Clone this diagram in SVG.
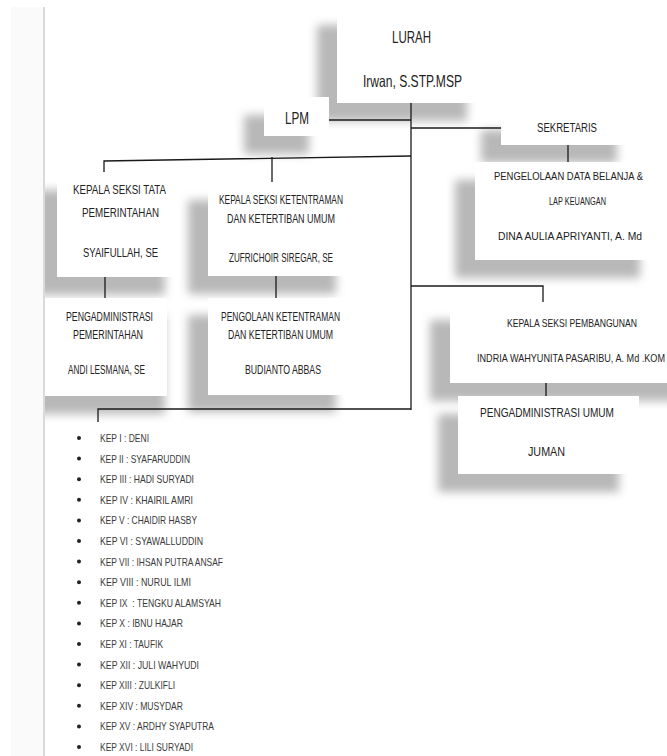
<svg xmlns="http://www.w3.org/2000/svg" width="667" height="756" viewBox="0 0 667 756">
<style>
.t{font-family:"Liberation Sans",Arial,sans-serif;font-size:12.5px;fill:#222}
.r{font-size:10.5px}
.b{font-size:16.5px}
.l{font-family:"Liberation Sans",Arial,sans-serif;font-size:11px;fill:#3a3a3a}
.box{fill:#fff}
.sh{fill:#b8b8b8;filter:url(#blur)}
.c{stroke:#1a1a1a;stroke-width:1.3;fill:none}
.bul{fill:#222}
</style>
<defs>
<filter id="blur" x="-30%" y="-30%" width="160%" height="160%"><feGaussianBlur stdDeviation="5"/></filter>
<clipPath id="page"><rect x="45" y="0" width="622" height="756"/></clipPath>
</defs>
<rect width="667" height="756" fill="#fff"/>
<rect x="11" y="7" width="32" height="749" fill="#fafafa"/>
<rect x="43" y="7" width="2" height="749" fill="#dadada"/>
<g clip-path="url(#page)">
<g id="lurah">
<rect class="sh" x="317" y="25" width="150" height="96"/>
<rect class="box" x="337" y="7" width="150" height="96"/>
<text class="t b" x="392" y="42.7" textLength="39" lengthAdjust="spacingAndGlyphs">LURAH</text>
<text class="t b" x="363" y="87" textLength="99" lengthAdjust="spacingAndGlyphs">Irwan, S.STP.MSP</text>
</g>
<g id="lpm">
<rect class="sh" x="244" y="115" width="65" height="39"/>
<rect class="box" x="264" y="97" width="65" height="39"/>
<text class="t b" x="285" y="124" textLength="24" lengthAdjust="spacingAndGlyphs">LPM</text>
</g>
<g id="sekretaris">
<rect class="sh" x="481" y="130" width="136" height="33"/>
<rect class="box" x="501" y="112" width="136" height="33"/>
<text class="t" x="537" y="132" textLength="60" lengthAdjust="spacingAndGlyphs">SEKRETARIS</text>
</g>
<g id="pengelolaan">
<rect class="sh" x="455" y="180" width="185" height="98"/>
<rect class="box" x="475" y="162" width="185" height="98"/>
<text class="t r" x="494" y="179.5" textLength="149" lengthAdjust="spacingAndGlyphs">PENGELOLAAN DATA BELANJA &amp;</text>
<text class="t r" x="549" y="204.5" textLength="57" lengthAdjust="spacingAndGlyphs">LAP KEUANGAN</text>
<text class="t r" x="498" y="239.5" textLength="144" lengthAdjust="spacingAndGlyphs">DINA AULIA APRIYANTI, A. Md</text>
</g>
<g id="kasi-tata">
<rect class="sh" x="37" y="190" width="128" height="105"/>
<rect class="box" x="57" y="172" width="128" height="105"/>
<text class="t" x="73" y="194" textLength="93" lengthAdjust="spacingAndGlyphs">KEPALA SEKSI TATA</text>
<text class="t" x="82" y="216.5" textLength="77" lengthAdjust="spacingAndGlyphs">PEMERINTAHAN</text>
<text class="t" x="83" y="256.5" textLength="75" lengthAdjust="spacingAndGlyphs">SYAIFULLAH, SE</text>
</g>
<g id="kasi-trantib">
<rect class="sh" x="188" y="200" width="148" height="94"/>
<rect class="box" x="208" y="182" width="148" height="94"/>
<text class="t" x="219" y="203.5" textLength="124" lengthAdjust="spacingAndGlyphs">KEPALA SEKSI KETENTRAMAN</text>
<text class="t" x="227" y="222.5" textLength="108" lengthAdjust="spacingAndGlyphs">DAN KETERTIBAN UMUM</text>
<text class="t" x="229" y="261.5" textLength="104" lengthAdjust="spacingAndGlyphs">ZUFRICHOIR SIREGAR, SE</text>
</g>
<g id="pengadm-pem">
<rect class="sh" x="25" y="316" width="140" height="98"/>
<rect class="box" x="45" y="298" width="122" height="98"/>
<text class="t" x="66" y="320.5" textLength="87" lengthAdjust="spacingAndGlyphs">PENGADMINISTRASI</text>
<text class="t" x="73" y="338.5" textLength="70" lengthAdjust="spacingAndGlyphs">PEMERINTAHAN</text>
<text class="t" x="68" y="373.5" textLength="77" lengthAdjust="spacingAndGlyphs">ANDI LESMANA, SE</text>
</g>
<g id="pengolaan">
<rect class="sh" x="188" y="315" width="148" height="97"/>
<rect class="box" x="208" y="298" width="148" height="97"/>
<text class="t" x="221" y="320.5" textLength="119" lengthAdjust="spacingAndGlyphs">PENGOLAAN KETENTRAMAN</text>
<text class="t" x="228" y="338.5" textLength="105" lengthAdjust="spacingAndGlyphs">DAN KETERTIBAN UMUM</text>
<text class="t" x="245" y="373.5" textLength="76" lengthAdjust="spacingAndGlyphs">BUDIANTO ABBAS</text>
</g>
<g id="kasi-pembangunan">
<rect class="sh" x="430" y="320" width="250" height="81"/>
<rect class="box" x="450" y="302" width="250" height="81"/>
<text class="t r" x="507" y="326.5" textLength="130" lengthAdjust="spacingAndGlyphs">KEPALA SEKSI PEMBANGUNAN</text>
<text class="t r" transform="translate(477 361.5) scale(0.8 1)" x="0" y="0" textLength="235" lengthAdjust="spacingAndGlyphs">INDRIA WAHYUNITA PASARIBU, A. Md .KOM</text>
</g>
<g id="pengadm-umum">
<rect class="sh" x="438" y="414" width="181" height="78"/>
<rect class="box" x="458" y="396" width="181" height="78"/>
<text class="t" x="480" y="416.5" textLength="134" lengthAdjust="spacingAndGlyphs">PENGADMINISTRASI UMUM</text>
<text class="t" x="528" y="455.5" textLength="37" lengthAdjust="spacingAndGlyphs">JUMAN</text>
</g>
</g>
<g id="connectors">
<path class="c" d="M411 103V410"/>
<path class="c" d="M329 120H411"/>
<path class="c" d="M411 128H501"/>
<path class="c" d="M568 145V162"/>
<path class="c" d="M411 156L104 161V172"/>
<path class="c" d="M272 157V182"/>
<path class="c" d="M105 277V298"/>
<path class="c" d="M276 276V298"/>
<path class="c" d="M411 286H543V302"/>
<path class="c" d="M546 383V396"/>
<path class="c" d="M411 409H98V422"/>
</g>
<g id="kep-list">
<circle class="bul" cx="79" cy="438" r="2"/><text class="l" x="100" y="442" textLength="49" lengthAdjust="spacingAndGlyphs">KEP I : DENI</text>
<circle class="bul" cx="79" cy="458.6" r="2"/><text class="l" x="100" y="462.6" textLength="90" lengthAdjust="spacingAndGlyphs">KEP II : SYAFARUDDIN</text>
<circle class="bul" cx="79" cy="479.2" r="2"/><text class="l" x="100" y="483.2" textLength="94" lengthAdjust="spacingAndGlyphs">KEP III : HADI SURYADI</text>
<circle class="bul" cx="79" cy="499.8" r="2"/><text class="l" x="100" y="503.8" textLength="93" lengthAdjust="spacingAndGlyphs">KEP IV : KHAIRIL AMRI</text>
<circle class="bul" cx="79" cy="520.4" r="2"/><text class="l" x="100" y="524.4" textLength="97" lengthAdjust="spacingAndGlyphs">KEP V : CHAIDIR HASBY</text>
<circle class="bul" cx="79" cy="541" r="2"/><text class="l" x="100" y="545" textLength="103" lengthAdjust="spacingAndGlyphs">KEP VI : SYAWALLUDDIN</text>
<circle class="bul" cx="79" cy="561.6" r="2"/><text class="l" x="100" y="565.6" textLength="123" lengthAdjust="spacingAndGlyphs">KEP VII : IHSAN PUTRA ANSAF</text>
<circle class="bul" cx="79" cy="582.2" r="2"/><text class="l" x="100" y="586.2" textLength="91" lengthAdjust="spacingAndGlyphs">KEP VIII : NURUL ILMI</text>
<circle class="bul" cx="79" cy="602.8" r="2"/><text class="l" x="100" y="606.8" textLength="121" lengthAdjust="spacingAndGlyphs" xml:space="preserve">KEP IX  : TENGKU ALAMSYAH</text>
<circle class="bul" cx="79" cy="623.4" r="2"/><text class="l" x="100" y="627.4" textLength="83" lengthAdjust="spacingAndGlyphs">KEP X : IBNU HAJAR</text>
<circle class="bul" cx="79" cy="644" r="2"/><text class="l" x="100" y="648" textLength="63" lengthAdjust="spacingAndGlyphs">KEP XI : TAUFIK</text>
<circle class="bul" cx="79" cy="664.6" r="2"/><text class="l" x="100" y="668.6" textLength="99" lengthAdjust="spacingAndGlyphs">KEP XII : JULI WAHYUDI</text>
<circle class="bul" cx="79" cy="685.2" r="2"/><text class="l" x="100" y="689.2" textLength="75" lengthAdjust="spacingAndGlyphs">KEP XIII : ZULKIFLI</text>
<circle class="bul" cx="79" cy="705.8" r="2"/><text class="l" x="100" y="709.8" textLength="83" lengthAdjust="spacingAndGlyphs">KEP XIV : MUSYDAR</text>
<circle class="bul" cx="79" cy="726.4" r="2"/><text class="l" x="100" y="730.4" textLength="114" lengthAdjust="spacingAndGlyphs">KEP XV : ARDHY SYAPUTRA</text>
<circle class="bul" cx="79" cy="747" r="2"/><text class="l" x="100" y="751" textLength="93" lengthAdjust="spacingAndGlyphs">KEP XVI : LILI SURYADI</text>
</g>
</svg>
